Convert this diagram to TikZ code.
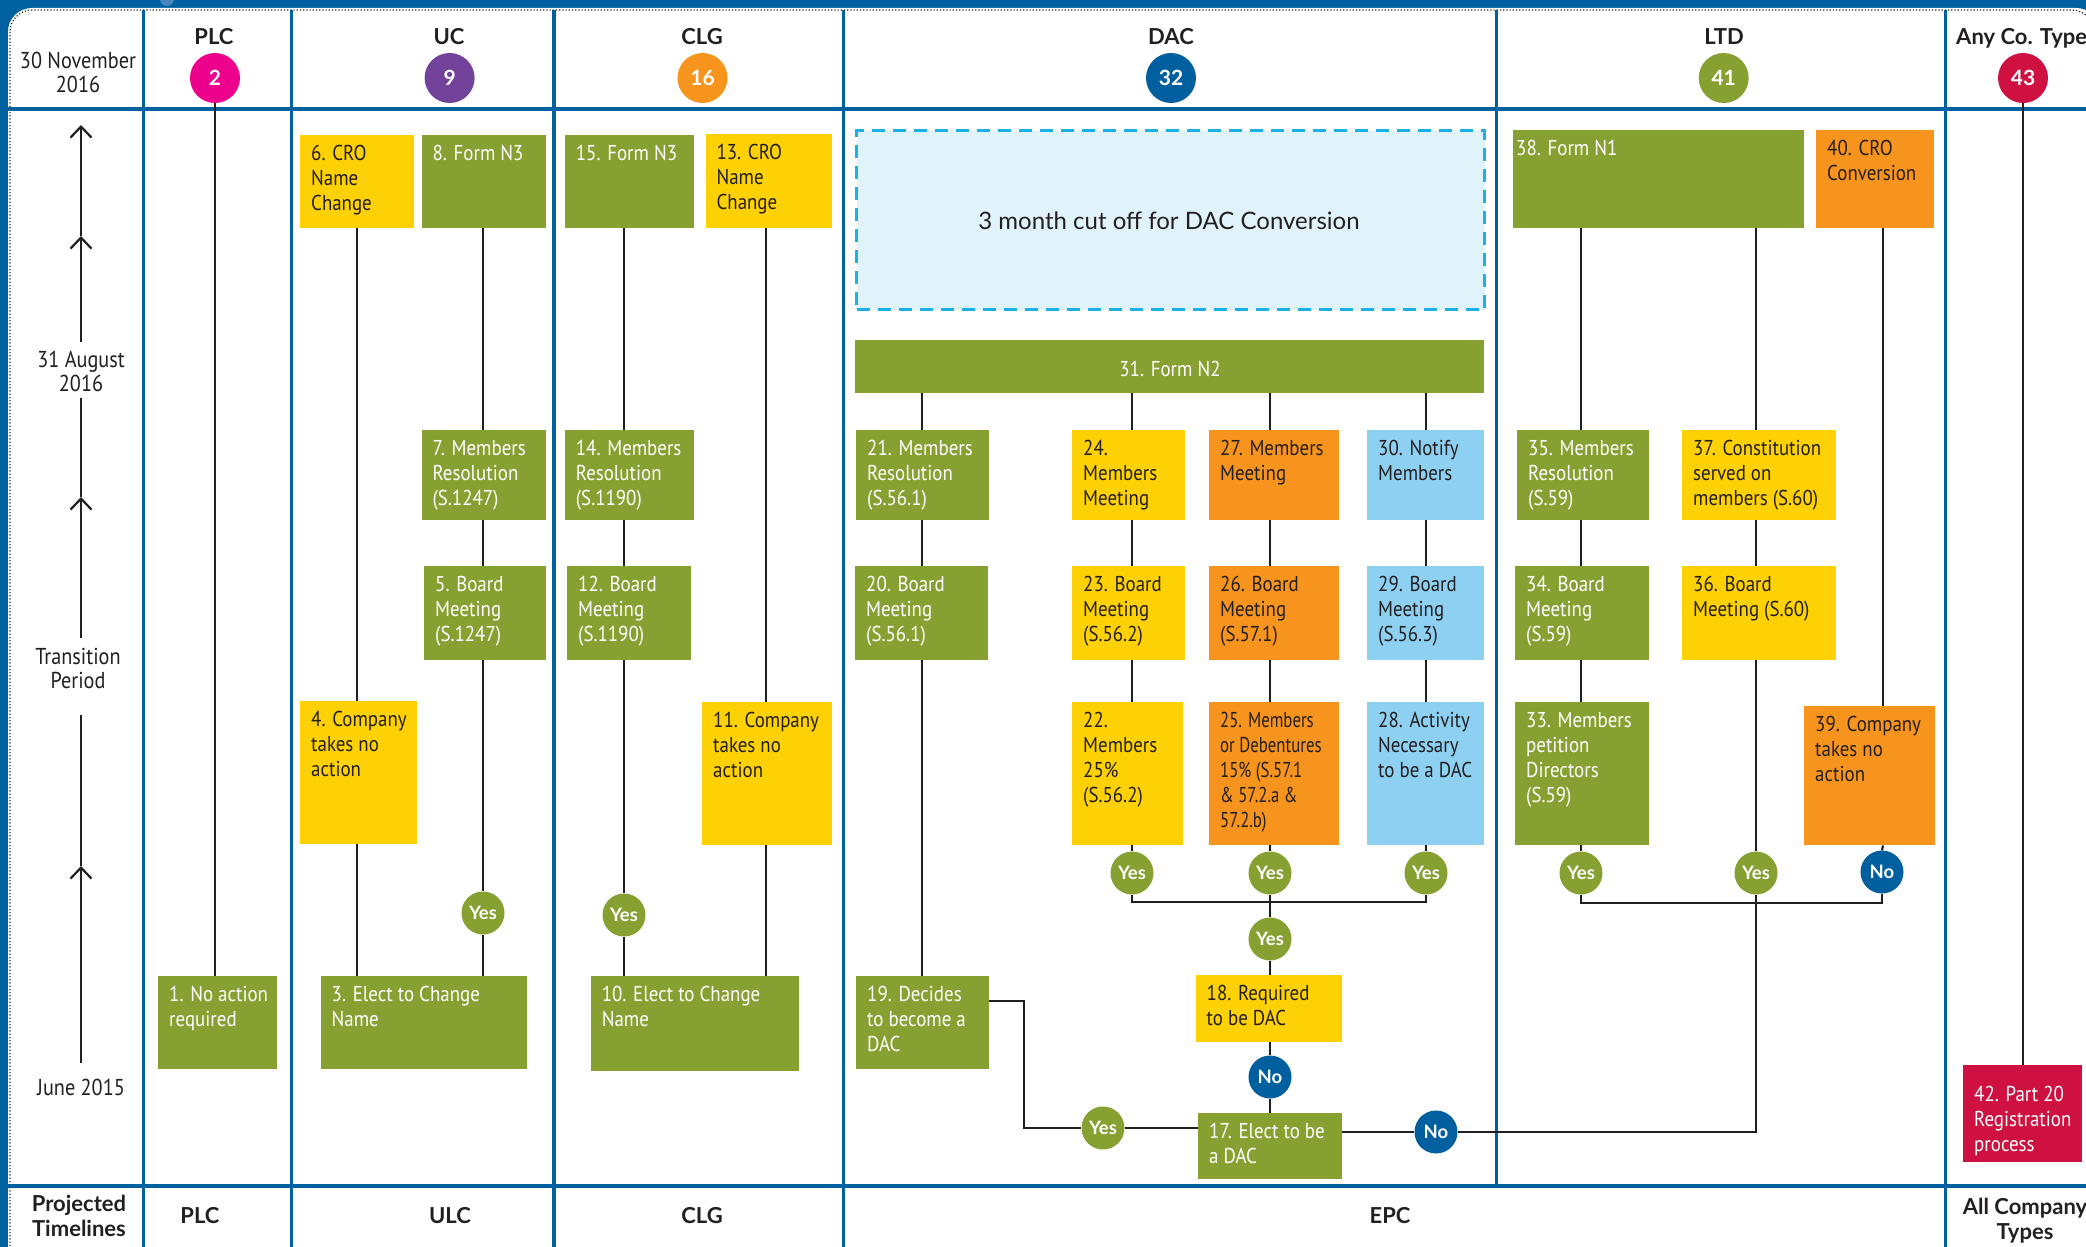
\documentclass[tikz,border=0pt]{standalone}
\usepackage{fontspec}
\setmainfont{Lato}
\newfontfamily\cond{PT Sans}[FakeStretch=0.88]
\newfontfamily\condx{PT Sans}[FakeStretch=0.78]
\usetikzlibrary{arrows.meta}

\definecolor{frameblue}{HTML}{0061A0}
\definecolor{bump}{HTML}{4A86BE}
\definecolor{ogreen}{HTML}{87A032}
\definecolor{sun}{HTML}{FDD104}
\definecolor{amber}{HTML}{F7941E}
\definecolor{sky}{HTML}{8ED0F1}
\definecolor{crimson}{HTML}{CE1141}
\definecolor{navy}{HTML}{00609F}
\definecolor{ink}{HTML}{231F20}
\definecolor{pale}{HTML}{E1F3FA}
\definecolor{cyanline}{HTML}{1CB0E8}
\definecolor{magentab}{HTML}{EC008C}
\definecolor{plum}{HTML}{73429A}

\tikzset{
  gridline/.style={draw=frameblue, line width=3.5pt},
  conn/.style={draw=ink, line width=2.2pt},
  tip/.style={-{Straight Barb[length=11pt,width=21pt]}},
  boxshape/.style={rectangle, inner sep=0pt, anchor=north west},
  btxt/.style={inner sep=0pt, anchor=north west, align=left, font=\cond\fontsize{21.5}{25}\selectfont},
  yes/.style={circle, fill=ogreen, minimum size=43pt, inner sep=0pt, text=white, font=\bfseries\fontsize{18.5}{18.5}\selectfont},
  no/.style={yes, fill=navy},
  badge/.style={circle, minimum size=50pt, inner sep=0pt, text=white, font=\bfseries\fontsize{21}{21}\selectfont},
  head/.style={font=\bfseries\fontsize{22}{25}\selectfont, text=ink, align=center, inner sep=0pt},
  side/.style={font=\cond\fontsize{23}{24}\selectfont, text=ink, align=center, inner sep=0pt},
}

% [text options] name, x1, y1, x2, y2, fill, text colour, text
\newcommand\procbox[9][]{%
  \node[boxshape, fill=#7, minimum width={#5-#3}, minimum height={#6-#4}] (#2) at (#3,#4) {};
  \node[btxt, text=#8, #1] at ([xshift=11pt,yshift=-7.5pt]#2.north west) {\strut#9};
}

\begin{document}
\begin{tikzpicture}[x=1pt,y=-1pt]
\useasboundingbox (0,0) rectangle (2086,1247);

% page frame
\fill[frameblue] (0,0) rectangle (2086,1247);
\fill[bump] (167,-1) circle (7pt);
\fill[white, rounded corners=24pt] (8,8) rectangle (2100,1300);
\draw[ink, line width=1.2pt, dash pattern=on 1.2pt off 2pt, rounded corners=22pt] (10,10) rectangle (2094,1300);

% grid
\foreach \gx in {143.7,291.4,553.9,843.7,1945.5}
  \draw[gridline] (\gx,10) -- (\gx,1247);
\draw[gridline] (1496.4,10) -- (1496.4,1186);
\draw[gridline] (8,109) -- (2086,109);
\draw[gridline] (8,1186) -- (2086,1186);

% header
\node[head, anchor=base] (hplc) at (214,44.5) {PLC};
\node[head, anchor=base] (huc) at (449,44.5) {UC};
\node[head, anchor=base] (hclg) at (702,44.5) {CLG};
\node[head, anchor=base] (hdac) at (1171,44.5) {DAC};
\node[head, anchor=base] (hltd) at (1724,44.5) {LTD};
\node[head, anchor=base west] (hany) at (1956,44.5) {Any Co. Type};
\node[badge, fill=magentab] (c2) at (215,78) {2};
\node[badge, fill=plum] (c9) at (449.6,78) {9};
\node[badge, fill=amber] (c16) at (702.5,78) {16};
\node[badge, fill=navy] (c32) at (1171,78) {32};
\node[badge, fill=ogreen] (c41) at (1723.7,78) {41};
\node[badge, fill=crimson] (c43) at (2023,78) {43};

% time axis
\node[side] (d30) at (78,72) {30 November\\2016};
\node[side] (d31) at (81,371) {31 August\\2016};
\node[side] (dtr) at (78,668) {Transition\\Period};
\node[side] (djn) at (81,1087) {June 2015};
\coordinate (t1) at (81,125);
\coordinate (a2) at (81,236);
\coordinate (t2) at (81,342);
\coordinate (t3) at (81,398);
\coordinate (a3) at (81,497);
\coordinate (t4) at (81,638);
\coordinate (t5) at (81,715);
\coordinate (a4) at (81,866);
\coordinate (t6) at (81,1063);
\draw[conn, tip] (t2) -- (a2);
\draw[conn, tip] (a2) -- (t1);
\draw[conn, tip] (t4) -- (a3);
\draw[conn] (a3) -- (t3);
\draw[conn, tip] (t6) -- (a4);
\draw[conn] (a4) -- (t5);

% footer
\node[head] (fproj) at (79,1216) {Projected\\Timelines};
\node[head, anchor=base] (fplc) at (200,1223) {PLC};
\node[head, anchor=base] (fulc) at (450,1223) {ULC};
\node[head, anchor=base] (fclg) at (702,1223) {CLG};
\node[head, anchor=base] (fepc) at (1390,1223) {EPC};
\node[head] (fall) at (2025,1221) {All Company\\Types};

% lanes
\coordinate (Lu1) at (357,0);
\coordinate (Lu2) at (483,0);
\coordinate (Lc1) at (624,0);
\coordinate (Lc2) at (766,0);
\coordinate (Ld1) at (922,0);
\coordinate (Ld2) at (1132,0);
\coordinate (Ld3) at (1270,0);
\coordinate (Ld4) at (1426,0);
\coordinate (Lt1) at (1581,0);
\coordinate (Lt2) at (1756,0);
\coordinate (Lt3) at (1883,0);

% top row
\procbox{b6}{300}{135}{414}{228}{sun}{ink}{6. CRO\\Name\\Change}
\procbox{b8}{421.4}{135}{545.5}{228}{ogreen}{white}{8. Form N3}
\procbox{b15}{564.7}{135}{694.2}{228}{ogreen}{white}{15. Form N3}
\procbox{b13}{705.4}{134}{832}{228}{sun}{ink}{13. CRO\\Name\\Change}
\node[boxshape, fill=pale, draw=cyanline, line width=3pt, dash pattern=on 13pt off 8pt,
      minimum width=628pt, minimum height=179pt] (cutoff) at (855,129) {};
\node[font=\fontsize{24}{26}\selectfont, text=ink, inner sep=0pt] (cuttxt) at (1169,221) {3 month cut off for DAC Conversion};
\node[boxshape, fill=ogreen, minimum width=629pt, minimum height=53pt] (b31) at (855,340) {};
\node[font=\cond\fontsize{21.5}{25}\selectfont, text=white, inner sep=0pt] (t31) at (1170,369) {31. Form N2};
\procbox[xshift=-8pt]{b38}{1513}{130}{1804}{228}{ogreen}{white}{38. Form N1}
\procbox{b40}{1816}{130}{1934}{228}{amber}{ink}{40. CRO\\Conversion}

% second row
\procbox{b7}{421.4}{430}{545.5}{520}{ogreen}{white}{7. Members\\Resolution\\(S.1247)}
\procbox{b14}{564.7}{430}{694.2}{520}{ogreen}{white}{14. Members\\Resolution\\(S.1190)}
\procbox{b21}{856}{430}{989}{520}{ogreen}{white}{21. Members\\Resolution\\(S.56.1)}
\procbox{b24}{1072}{430}{1185}{520}{sun}{ink}{24.\\Members\\Meeting}
\procbox{b27}{1209}{430}{1339}{520}{amber}{ink}{27. Members\\Meeting}
\procbox{b30}{1367}{430}{1484}{520}{sky}{ink}{30. Notify\\Members}
\procbox{b35}{1517}{430}{1649}{520}{ogreen}{white}{35. Members\\Resolution\\(S.59)}
\procbox{b37}{1682}{430}{1836}{520}{sun}{ink}{37. Constitution\\served on\\members (S.60)}

% third row
\procbox{b5}{424}{566}{545.5}{660}{ogreen}{white}{5. Board\\Meeting\\(S.1247)}
\procbox{b12}{567}{566}{691}{660}{ogreen}{white}{12. Board\\Meeting\\(S.1190)}
\procbox{b20}{855}{566}{988}{660}{ogreen}{white}{20. Board\\Meeting\\(S.56.1)}
\procbox{b23}{1072}{566}{1185}{660}{sun}{ink}{23. Board\\Meeting\\(S.56.2)}
\procbox{b26}{1209}{566}{1339}{660}{amber}{ink}{26. Board\\Meeting\\(S.57.1)}
\procbox{b29}{1367}{566}{1484}{660}{sky}{ink}{29. Board\\Meeting\\(S.56.3)}
\procbox{b34}{1515}{566}{1649}{660}{ogreen}{white}{34. Board\\Meeting\\(S.59)}
\procbox{b36}{1682}{566}{1836}{660}{sun}{ink}{36. Board\\Meeting (S.60)}

% fourth row
\procbox{b4}{300}{701}{416.5}{844}{sun}{ink}{4. Company\\takes no\\action}
\procbox{b11}{702}{702}{832}{845}{sun}{ink}{11. Company\\takes no\\action}
\procbox{b22}{1072}{702}{1183}{845}{sun}{ink}{22.\\Members\\25\%\\(S.56.2)}
\procbox[font=\condx\fontsize{21.5}{25}\selectfont]{b25}{1209}{702}{1339}{845}{amber}{ink}{25. Members\\or Debentures\\15\% (S.57.1\\\& 57.2.a \&\\57.2.b)}
\procbox{b28}{1367}{702}{1484}{845}{sky}{ink}{28. Activity\\Necessary\\to be a DAC}
\procbox{b33}{1515}{702}{1649}{845}{ogreen}{white}{33. Members\\petition\\Directors\\(S.59)}
\procbox{b39}{1804}{706}{1935}{845}{amber}{ink}{39. Company\\takes no\\action}

% bottom row
\procbox{b1}{158}{976}{277}{1069}{ogreen}{white}{1. No action\\required}
\procbox{b3}{320.5}{976}{527}{1069}{ogreen}{white}{3. Elect to Change\\Name}
\procbox{b10}{590.6}{976}{799}{1071}{ogreen}{white}{10. Elect to Change\\Name}
\procbox{b19}{856}{976}{989}{1069}{ogreen}{white}{19. Decides\\to become a\\DAC}
\procbox{b18}{1195.5}{975}{1342}{1042}{sun}{ink}{18. Required\\to be DAC}
\procbox{b17}{1198}{1113}{1342}{1179}{ogreen}{white}{17. Elect to be\\a DAC}
\procbox[yshift=-11pt]{b42}{1963}{1065}{2081.5}{1162}{crimson}{white}{42. Part 20\\Registration\\process}

% decision markers
\node[yes] (yu) at (483,913) {Yes};
\node[yes] (yc) at (624,915) {Yes};
\node[yes] (ya1) at (1132,873) {Yes};
\node[yes] (ya2) at (1270,873) {Yes};
\node[yes] (ya3) at (1426,873) {Yes};
\node[yes] (ya4) at (1270,939) {Yes};
\node[no] (na) at (1270,1077) {No};
\node[yes] (ya5) at (1103,1128) {Yes};
\node[no] (nb) at (1436,1132) {No};
\node[yes] (yl1) at (1581,873) {Yes};
\node[yes] (yl2) at (1756,873) {Yes};
\node[no] (nl) at (1882,872) {No};
\coordinate (jd) at (1270,902);
\coordinate (jl) at (1756,903);
\coordinate (k19) at (1024,1128);

% connectors: PLC and UC
\draw[conn] (c2.south) -- (c2.south |- b1.north);
\draw[conn] (b6.south -| Lu1) -- (b4.north -| Lu1);
\draw[conn] (b4.south -| Lu1) -- (b3.north -| Lu1);
\draw[conn] (b8.south -| Lu2) -- (b7.north -| Lu2);
\draw[conn] (b7.south -| Lu2) -- (b5.north -| Lu2);
\draw[conn] (b5.south -| Lu2) -- (yu.north);
\draw[conn] (yu.south) -- (b3.north -| Lu2);
% CLG
\draw[conn] (b15.south -| Lc1) -- (b14.north -| Lc1);
\draw[conn] (b14.south -| Lc1) -- (b12.north -| Lc1);
\draw[conn] (b12.south -| Lc1) -- (yc.north);
\draw[conn] (yc.south) -- (b10.north -| Lc1);
\draw[conn] (b13.south -| Lc2) -- (b11.north -| Lc2);
\draw[conn] (b11.south -| Lc2) -- (b10.north -| Lc2);
% DAC
\draw[conn] (b31.south -| Ld1) -- (b21.north -| Ld1);
\draw[conn] (b21.south -| Ld1) -- (b20.north -| Ld1);
\draw[conn] (b20.south -| Ld1) -- (b19.north -| Ld1);
\draw[conn] (b31.south -| Ld2) -- (b24.north -| Ld2);
\draw[conn] (b24.south -| Ld2) -- (b23.north -| Ld2);
\draw[conn] (b23.south -| Ld2) -- (b22.north -| Ld2);
\draw[conn] (b22.south -| Ld2) -- (ya1.north);
\draw[conn] (b31.south -| Ld3) -- (b27.north -| Ld3);
\draw[conn] (b27.south -| Ld3) -- (b26.north -| Ld3);
\draw[conn] (b26.south -| Ld3) -- (b25.north -| Ld3);
\draw[conn] (b25.south -| Ld3) -- (ya2.north);
\draw[conn] (b31.south -| Ld4) -- (b30.north -| Ld4);
\draw[conn] (b30.south -| Ld4) -- (b29.north -| Ld4);
\draw[conn] (b29.south -| Ld4) -- (b28.north -| Ld4);
\draw[conn] (b28.south -| Ld4) -- (ya3.north);
\draw[conn] (ya1.south) |- (jd) -| (ya3.south);
\draw[conn] (ya2.south) -- (ya4.north);
\draw[conn] (ya4.south) -- (b18.north -| Ld3);
\draw[conn] (b18.south -| Ld3) -- (na.north);
\draw[conn] (na.south) -- (b17.north -| Ld3);
\draw[conn] ([yshift=-25pt]b19.north east) -| (k19) -- (ya5.west);
\draw[conn] (ya5.east) -- (b17.west |- ya5);
% LTD
\draw[conn] (b38.south -| Lt1) -- (b35.north -| Lt1);
\draw[conn] (b35.south -| Lt1) -- (b34.north -| Lt1);
\draw[conn] (b34.south -| Lt1) -- (b33.north -| Lt1);
\draw[conn] (b33.south -| Lt1) -- (yl1.north);
\draw[conn] (b38.south -| Lt2) -- (b37.north -| Lt2);
\draw[conn] (b37.south -| Lt2) -- (b36.north -| Lt2);
\draw[conn] (b36.south -| Lt2) -- (yl2.north);
\draw[conn] (b40.south -| Lt3) -- (b39.north -| Lt3);
\draw[conn] (b39.south -| Lt3) -- (nl.north);
\draw[conn] (yl1.south) |- (jl) -| (nl.south);
\draw[conn] (yl2.south) |- (nb.east);
\draw[conn] (nb.west) -- (b17.east |- nb);
% any company type
\draw[conn] (c43.south) -- (c43.south |- b42.north);
\end{tikzpicture}
\end{document}
